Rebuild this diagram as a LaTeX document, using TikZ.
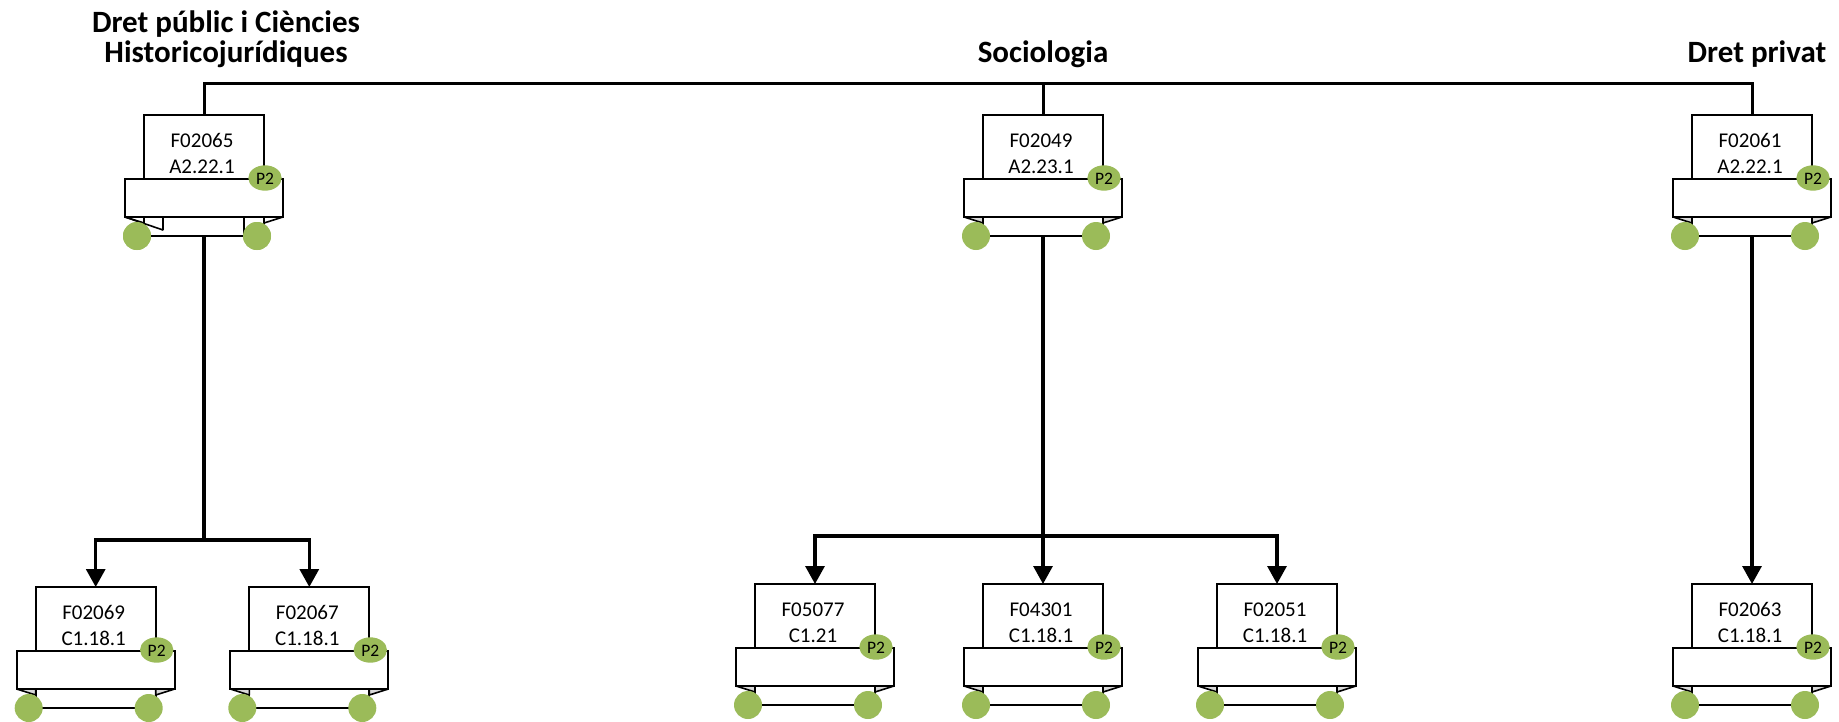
\documentclass[tikz,border=0pt]{standalone}
\usepackage{fontspec}
\setmainfont{Carlito}
\usetikzlibrary{arrows.meta}
\definecolor{pgreen}{HTML}{9BBB59}
\definecolor{flapgray}{HTML}{D9D9D9}
\tikzset{
  cardbox/.style={draw, line width=2.2pt, fill=white, minimum width=120pt, minimum height=121pt, inner sep=0pt, outer sep=0pt},
  boxline/.style={draw, line width=2.2pt},
  flapline/.style={draw, line width=1.6pt, line join=bevel},
  cardtext/.style={font=\fontsize{21}{25}\selectfont, anchor=base, inner sep=0pt},
  ptext/.style={font=\fontsize{17.5}{20}\selectfont, inner sep=0pt},
  titletext/.style={font=\fontsize{31}{37}\selectfont\bfseries, anchor=base, inner sep=0pt},
  conn/.style={line width=3.2pt},
  arr/.style={conn, -{Triangle[length=18pt,width=19pt]}},
  drop/.style={line width=3pt},
}
% #1 flap fill, #2 name, #3 x centre, #4 top y, #5 line 1, #6 line 2
\newcommand\card[6][flapgray]{%
  \node[cardbox] (#2) at (#3,#4+60.5) {};
  \draw[boxline, fill=white] (#3-79,#4+64) rectangle (#3+79,#4+102);
  \draw[flapline, fill=#1] (#3-79,#4+102) -- (#3-60,#4+102) -- (#3-60,#4+108) -- cycle;
  \draw[flapline, fill=#1] (#3+79,#4+102) -- (#3+60,#4+102) -- (#3+60,#4+108) -- cycle;
  \fill[pgreen] (#3-67,#4+121) circle[radius=14];
  \fill[pgreen] (#3+53,#4+121) circle[radius=14];
  \fill[pgreen] (#3+61,#4+63) ellipse[x radius=16.7, y radius=12.7];
  \node[ptext] (#2p) at (#3+61,#4+63.5) {P2};
  \node[cardtext] (#2a) at (#3-2,#4+32) {#5};
  \node[cardtext] (#2b) at (#3-2,#4+58.5) {#6};
}
\begin{document}
\begin{tikzpicture}[x=1pt,y=-1pt]
\useasboundingbox (0,0) rectangle (1839,721);

% titles
\node[titletext] (t1) at (226,32) {Dret públic i Ciències};
\node[titletext] (t2) at (226,62) {Historicojurídiques};
\node[titletext] (t3) at (1043,62) {Sociologia};
\node[titletext] (t4) at (1757,62) {Dret privat};

% cards
\card[white]{c65}{204}{115}{F02065}{A2.22.1}
\card{c49}{1043}{115}{F02049}{A2.23.1}
\card{c61}{1752}{115}{F02061}{A2.22.1}

\card{c69}{95.7}{587}{F02069}{C1.18.1}
\card{c67}{309.3}{587}{F02067}{C1.18.1}
\card{c5077}{815}{584}{F05077}{C1.21}
\card{c4301}{1043}{584}{F04301}{C1.18.1}
\card{c2051}{1277}{584}{F02051}{C1.18.1}
\card{c63}{1752}{584}{F02063}{C1.18.1}

% special flaps of F02065
\draw[flapline] (125,217) -- (163,230) -- (163,217);
\draw[flapline] (244,217) -- (244,236);
\fill[pgreen] (137,236) circle[radius=14];
\fill[pgreen] (257,236) circle[radius=14];

% top line
\coordinate (tl) at (0,83);
\draw[drop] (c65.north) -- (c65.north |- tl) -- (c61.north |- tl) -- (c61.north);
\draw[drop] (c49.north) -- (c49.north |- tl);

% left branch
\coordinate (j1) at (204,540);
\draw[arr] (c65.south) -- (j1) -| (c69.north);
\draw[arr] (j1) -| (c67.north);

% middle branch
\coordinate (j2) at (1043,536);
\draw[arr] (c49.south) -- (c4301.north);
\draw[arr] (j2) -| (c5077.north);
\draw[arr] (j2) -| (c2051.north);

% right branch
\draw[arr] (c61.south) -- (c63.north);
\end{tikzpicture}
\end{document}
